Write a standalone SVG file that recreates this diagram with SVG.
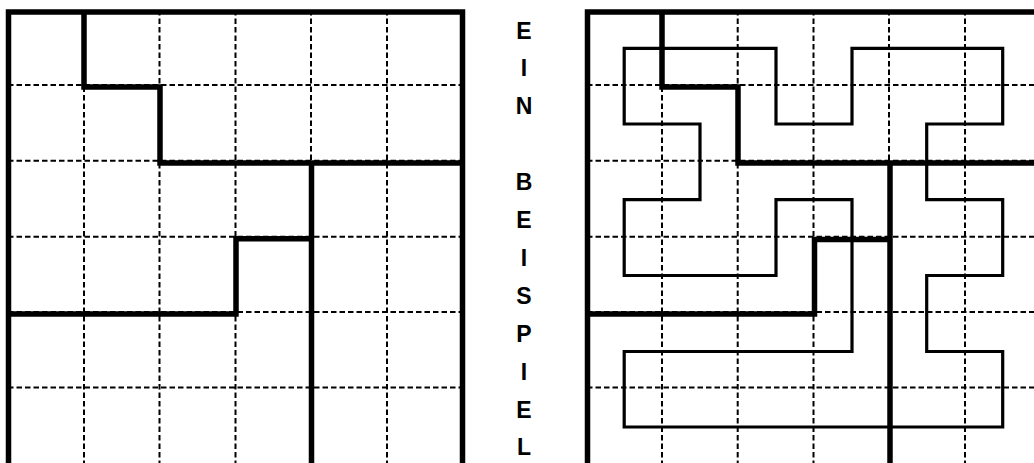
<svg xmlns="http://www.w3.org/2000/svg" width="1034" height="463" viewBox="0 0 1034 463">
<style>
.grid{stroke:#000;stroke-width:2;stroke-dasharray:5.5 3;fill:none}
.thick{stroke:#000;stroke-width:5.5;fill:none;stroke-linejoin:miter}
.thin{stroke:#000;stroke-width:3.2;fill:none;stroke-linejoin:miter}
.lbl{font-family:"Liberation Sans",Arial,sans-serif;font-weight:bold;font-size:23px;fill:#000;text-anchor:middle}
</style>
<rect width="1034" height="463" fill="#fff"/>
<g id="left-grid">
<path class="grid" d="M84,10V463M159.5,10V463M235.5,10V463M311,10V463M387,10V463M8,85H462M8,160.7H462M8,236.7H462M8,312H462M8,387.5H462"/>
<path class="thick" d="M8.5,463V12H462.5V463"/>
<path class="thick" d="M84,12V87H160V163H462.5"/>
<path class="thick" d="M311.5,163V463"/>
<path class="thick" d="M8.5,314H236V238.7H311.5"/>
</g>
<g id="label">
<text class="lbl" x="524" y="38.5">E</text>
<text class="lbl" x="524" y="76.4">I</text>
<text class="lbl" x="524" y="114.3">N</text>
<text class="lbl" x="524" y="190.1">B</text>
<text class="lbl" x="524" y="228">E</text>
<text class="lbl" x="524" y="265.9">I</text>
<text class="lbl" x="524" y="303.8">S</text>
<text class="lbl" x="524" y="341.7">P</text>
<text class="lbl" x="524" y="379.6">I</text>
<text class="lbl" x="524" y="417.5">E</text>
<text class="lbl" x="524" y="455.4">L</text>
</g>
<g id="right-grid">
<path class="grid" d="M662,10V463M737.7,10V463M813.5,10V463M889,10V463M965,10V463M587,85H1034M587,160.7H1034M587,236.7H1034M587,312H1034M587,387.5H1034"/>
<path class="thin" d="M624.2,48.3H776V124H852V48.3H1002.7V124H926.7V199.7H1002.7V275.5H926.7V351.5H1002.7V427H624.2V351.5H852V199.7H776V275.5H624.2V199.7H700V124H624.2Z"/>
<path class="thick" d="M587.5,463V12H1034"/>
<path class="thick" d="M662,12V87H738V163H1034"/>
<path class="thick" d="M890,163V463"/>
<path class="thick" d="M587.5,314H814.5V239.5H890"/>
</g>
</svg>
